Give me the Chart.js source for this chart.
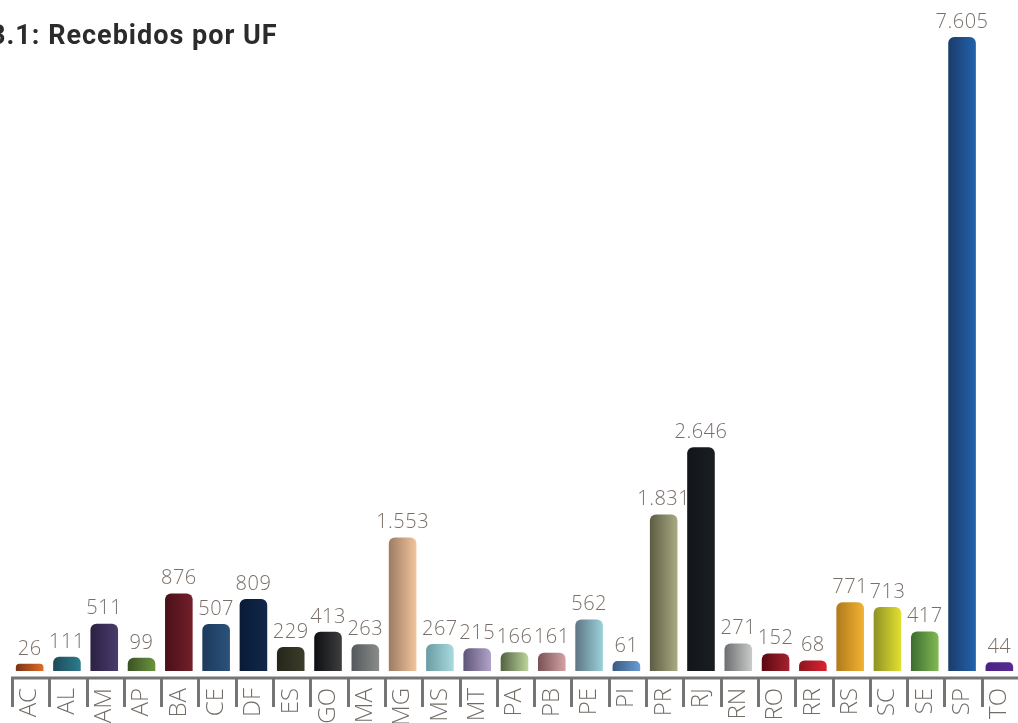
<!DOCTYPE html>
<html>
<head>
<meta charset="utf-8">
<script src="https://cdn.jsdelivr.net/npm/chart.js@4.4.1/dist/chart.umd.min.js"></script>
<style>
  html, body { margin: 0; padding: 0; background: #fff; overflow: hidden; }
  canvas { display: block; }
</style>
</head>
<body>
<canvas id="myChart" width="1018" height="738"></canvas>
<script>
const titleText = '3.1: Recebidos por UF';
const ufs = ['AC', 'AL', 'AM', 'AP', 'BA', 'CE', 'DF', 'ES', 'GO', 'MA', 'MG', 'MS', 'MT', 'PA', 'PB', 'PE', 'PI', 'PR', 'RJ', 'RN', 'RO', 'RR', 'RS', 'SC', 'SE', 'SP', 'TO'];
const recebidos = [26, 111, 511, 99, 876, 507, 809, 229, 413, 263, 1553, 267, 215, 166, 161, 562, 61, 1831, 2646, 271, 152, 68, 771, 713, 417, 7605, 44];
// cor escura (esquerda) -> clara (direita)
const darkColors = ['#7a3418', '#1d4b5a', '#2a2142', '#3b5222', '#4a1019', '#1c3a5c', '#081a36', '#25261a', '#0e0f12', '#54585c', '#9c7c64', '#6a9ca4', '#5e5676', '#526242', '#7a5254', '#5e7484', '#3a5a80', '#5c5c44', '#121519', '#6c6e70', '#5c0810', '#8c1620', '#b07a1c', '#8e9224', '#3c6c30', '#1a3c6c', '#4a2282'];
const lightColors = ['#e26a26', '#2c7c8c', '#4a3c6c', '#6a943e', '#72202a', '#2c527c', '#12284a', '#3c3c2a', '#3e3e40', '#8a8c8a', '#f2c49c', '#a8dade', '#b2a2ca', '#bcd49c', '#d4a2a4', '#9ad2da', '#6a9cd4', '#aaaa82', '#1a1d21', '#cacaca', '#a42230', '#dc2230', '#f2b232', '#e2e032', '#82ba52', '#2262aa', '#5a2a92'];

const barPct = 0.74;
const barBase = -60;   // as barras começam um pouco abaixo do zero
const axisMin = -145;  // espaço entre a base das barras e o eixo
const labelColor = '#7a6f68';

function fmt(n) {
    return String(n).replace(/\B(?=(\d{3})+(?!\d))/g, '.');
}

function barGradient(context) {
    const chart = context.chart;
    const i = context.dataIndex;
    const xs = chart.scales.x;
    if (!chart.chartArea || !xs) {
        return darkColors[i];
    }
    const center = xs.getPixelForValue(i);
    const half = xs.width / ufs.length * barPct / 2;
    const g = chart.ctx.createLinearGradient(center - half, 0, center + half, 0);
    g.addColorStop(0, darkColors[i]);
    g.addColorStop(1, lightColors[i]);
    return g;
}

const decorPlugin = {
    id: 'decor',
    afterDraw(chart) {
        const c = chart.ctx;
        const xs = chart.scales.x;
        const area = chart.chartArea;
        const step = xs.width / ufs.length;

        // eixo e separadores
        c.save();
        c.strokeStyle = '#757575';
        c.lineWidth = 3;
        c.beginPath();
        c.moveTo(area.left, area.bottom);
        c.lineTo(area.right, area.bottom);
        for (let i = 0; i <= ufs.length; i++) {
            const x = Math.round(xs.left + i * step) + 1.5;
            c.moveTo(x, area.bottom);
            c.lineTo(x, area.bottom + 29);
        }
        c.stroke();

        // valores sobre as barras
        c.fillStyle = labelColor;
        c.font = '300 20px "Open Sans"';
        c.letterSpacing = '0.5px';
        c.textAlign = 'center';
        c.textBaseline = 'bottom';
        chart.getDatasetMeta(0).data.forEach((bar, i) => {
            c.fillText(fmt(recebidos[i]), bar.x, bar.y - 5);
        });

        // título
        c.fillStyle = '#2b2b2b';
        c.font = 'bold 27px "Roboto"';
        c.letterSpacing = '1px';
        c.textAlign = 'left';
        c.textBaseline = 'alphabetic';
        c.fillText(titleText, -10, 44);
        c.restore();
    }
};

const ctx = document.getElementById('myChart').getContext('2d');
const myChart = new Chart(ctx, {
    type: 'bar',
    data: {
        labels: ufs,
        datasets: [{
            data: recebidos,
            base: barBase,
            backgroundColor: barGradient,
            borderWidth: 0,
            borderRadius: { topLeft: 6, topRight: 6 },
            borderSkipped: 'start',
            barPercentage: barPct,
            categoryPercentage: 1
        }]
    },
    options: {
        responsive: false,
        animation: false,
        layout: {
            padding: { top: 37, left: 11, right: 0, bottom: 0 }
        },
        plugins: {
            legend: { display: false },
            title: { display: false },
            tooltip: { enabled: false }
        },
        scales: {
            x: {
                offset: true,
                border: { display: false },
                grid: { display: false, drawTicks: false },
                ticks: {
                    color: '#726c67',
                    font: { family: 'Open Sans', size: 24, weight: 300 },
                    minRotation: 90,
                    maxRotation: 90,
                    padding: 10,
                    autoSkip: false
                },
                afterFit: (scale) => {
                    scale.height = 60;
                    scale.paddingLeft = 0;
                    scale.paddingRight = 0;
                }
            },
            y: {
                display: false,
                min: axisMin,
                max: 7605
            }
        }
    },
    plugins: [decorPlugin]
});
</script>
</body>
</html>
